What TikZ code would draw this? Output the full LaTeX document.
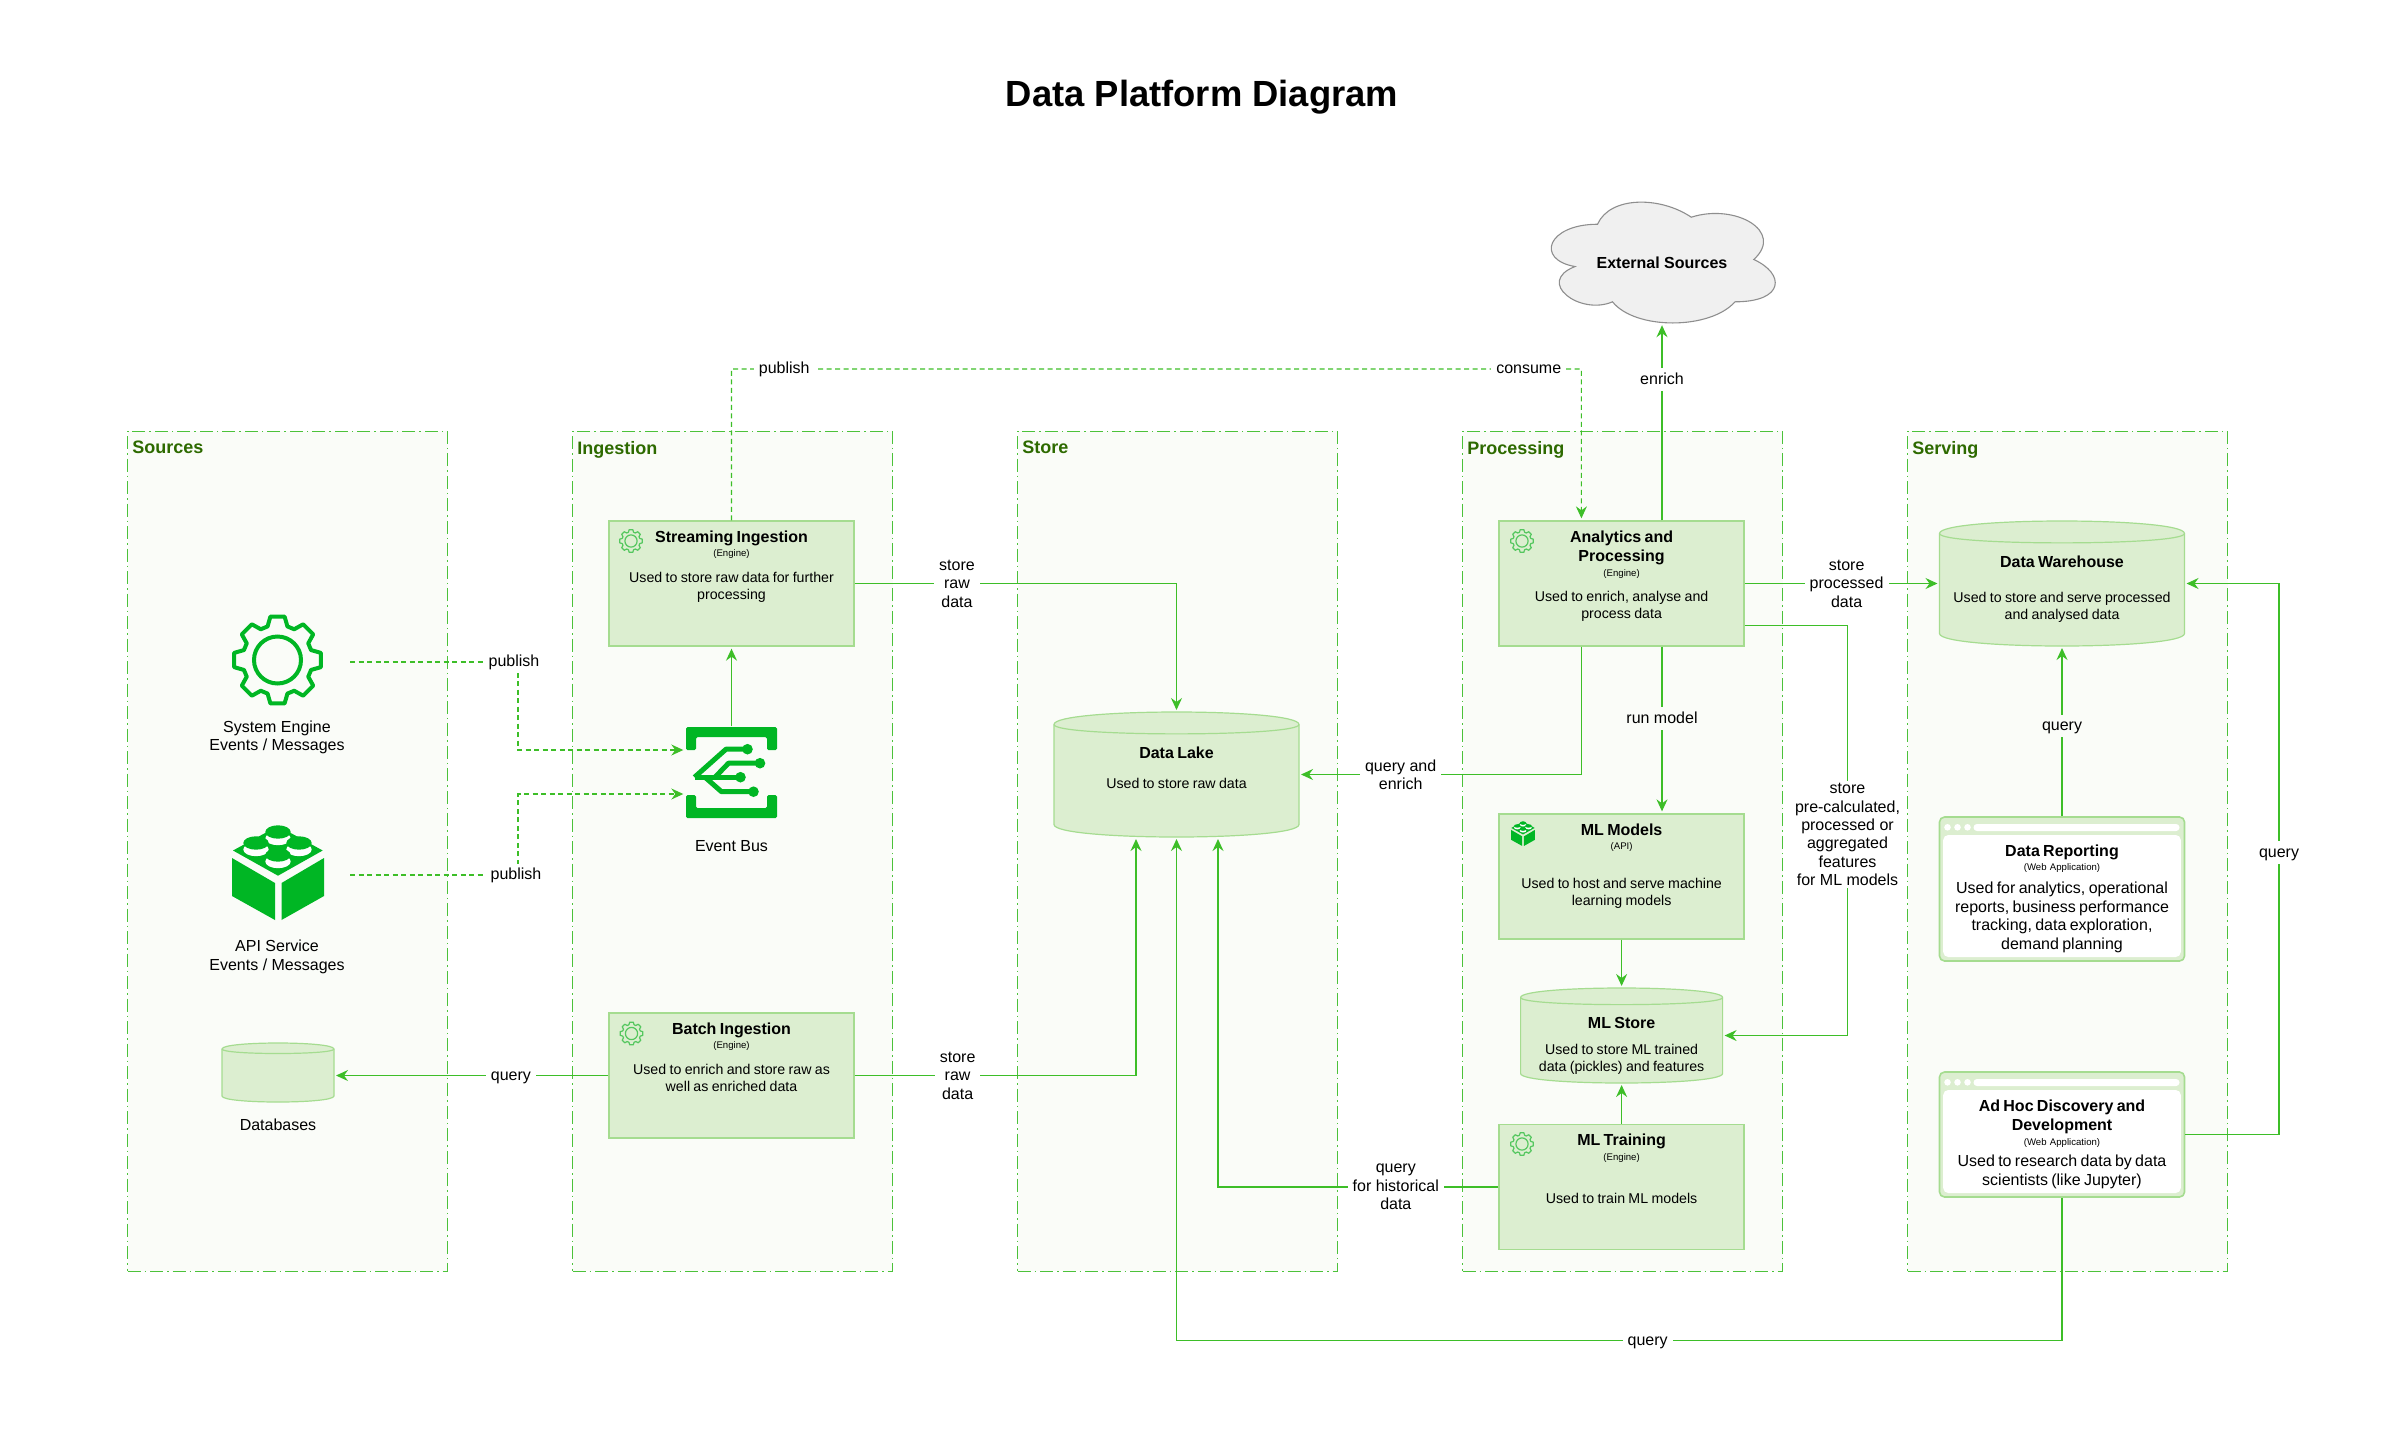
\documentclass[tikz,border=0pt]{standalone}
\usepackage{fontspec}
\setmainfont{Liberation Sans}
\usetikzlibrary{positioning, calc, arrows.meta}

\definecolor{panelfill}{HTML}{FAFCF8}
\definecolor{panelline}{HTML}{4CC23A}
\definecolor{paneltext}{HTML}{2D6A00}
\definecolor{boxfill}{HTML}{DCEED0}
\definecolor{boxline}{HTML}{A5DC90}
\definecolor{flowline}{HTML}{3DBE28}
\definecolor{iconfill}{HTML}{00B624}
\definecolor{smallicon}{HTML}{55C75F}
\definecolor{cloudfill}{HTML}{F0F0F0}
\definecolor{cloudline}{HTML}{8E8E8E}

\newcommand{\labelfont}{\fontsize{16}{18.4}\selectfont}
\newcommand{\titlefont}{\fontsize{16}{19.5}\selectfont\bfseries}
\newcommand{\subfont}{\fontsize{9.6}{14.5}\selectfont}
\newcommand{\descfont}{\fontsize{14.2}{17}\selectfont}
\newcommand{\webfont}{\fontsize{16}{18.7}\selectfont}

% title, small line, gap, text
\newcommand{\boxlabel}[4][8.5pt]{{\titlefont #2\par}{\subfont #3\par}\vspace{#1}{\descfont #4\par}}
\newcommand{\weblabel}[4][4.3pt]{{\titlefont #2\par}{\subfont #3\par}\vspace{#1}{\webfont #4\par}}
\newcommand{\dblabel}[3][13pt]{{\titlefont #2\par}\vspace{#1}{\descfont #3\par}}

% left, top, width, height, cap
\newcommand{\drumshape}[5]{
	\begin{scope}[shift={(#1,#2)}]
		\draw[draw=boxline, fill=boxfill, line width=1.2pt] (0,#5) .. controls (0,-#5/3) and (#3,-#5/3) .. (#3,#5)
			-- (#3,#4-#5) .. controls (#3,#4+#5/3) and (0,#4+#5/3) .. (0,#4-#5) -- cycle;
		\draw[draw=boxline, line width=1.2pt] (0,#5) .. controls (0,2*#5) and (#3,2*#5) .. (#3,#5);
	\end{scope}
}

\tikzset{
	panelbox/.style={rectangle, draw=panelline, fill=panelfill, line width=0.9pt,
		dash pattern=on 13pt off 4pt on 1.5pt off 4pt, minimum width=320pt, minimum height=840pt},
	paneltitle/.style={anchor=north west, inner xsep=5pt, inner ysep=10.5pt, text=paneltext,
		font=\fontsize{18}{20}\selectfont\bfseries},
	enginebox/.style={rectangle, draw=boxline, fill=boxfill, line width=1.3pt, inner sep=0pt,
		text width=245pt, align=center, text height=21pt, text depth=104pt},
	webbox/.style={enginebox, rounded corners=5pt, line width=1.6pt,
		path picture={
			\fill[white] ([shift={(3.7,18)}]path picture bounding box.north west) rectangle
				([shift={(-3.7,-4)}]path picture bounding box.south east);
			\foreach \dotx in {8,18,28}
				\fill[white] ([shift={(\dotx,10.3)}]path picture bounding box.north west) circle (3.3);
			\fill[white, rounded corners=3.4pt] ([shift={(34,7)}]path picture bounding box.north west) rectangle
				([shift={(-5,14)}]path picture bounding box.north east);
		}},
	dbbox/.style={rectangle, inner sep=0pt, outer sep=0pt, align=center},
	iconspot/.style={inner sep=0pt, minimum width=92pt, minimum height=92pt},
	iconlabel/.style={align=center, font=\labelfont, inner sep=0pt},
	flow/.style={draw=flowline, line width=1.3pt, shorten >=2pt,
		-{Stealth[length=12pt,width=11pt,inset=4pt]}},
	flowdash/.style={flow, line width=1.1pt, dash pattern=on 5pt off 3.5pt},
	linelabel/.style={fill=white, inner xsep=5pt, inner ysep=2pt, align=center, font=\labelfont, text=black},
	onelabel/.style={linelabel, inner ysep=5pt, text height=11pt, text depth=1.5pt},
	pics/gearicon/.style={code={
		\draw[line join=round] (-16.5:35) \foreach \a in {0,45,...,315}{
			-- (\a-16.5:35) -- (\a-9.3:44) -- (\a+9.3:44) -- (\a+16.5:35)} -- cycle;
		\draw (0,0) circle (23.5);
	}},
	pics/legoicon/.style={code={
		\fill[iconfill] (-46,-14) -- (-3,11) -- (-3,48) -- (-46,24) -- cycle;
		\fill[iconfill] (3.5,11) -- (46,-14) -- (46,24) -- (3.5,48) -- cycle;
		\fill[iconfill] (-45,-21.5) -- (0,3.7) -- (44.7,-21.5) -- (0,-46) -- cycle;
		\foreach \sx/\sy in {0/-40,-22/-29,21/-29,0/-17}{
			\fill[white] (\sx,\sy+6.5) ellipse (12.7 and 6.7);
			\fill[iconfill] (\sx,\sy) ellipse (12.7 and 6.7);
		}
	}},
}

\begin{document}
\begin{tikzpicture}[x=1pt, y=-1pt]
	\useasboundingbox (0,0) rectangle (2404,1454);
	
	%Title
	\node (diagramtitle) at (1202,97) [font=\fontsize{36.4}{40}\selectfont\bfseries]{Data Platform Diagram};
	
	%Panels
	\node (sources) at (287.5,851) [panelbox]{};
	\node (ingestion) at (732.5,851) [panelbox]{};
	\node (store) at (1177.5,851) [panelbox]{};
	\node (processing) at (1622.5,851) [panelbox]{};
	\node (serving) at (2067.5,851) [panelbox]{};
	\node (sourcestitle) at (sources.north west) [paneltitle]{Sources};
	\node (ingestiontitle) at (ingestion.north west) [paneltitle]{Ingestion};
	\node (storetitle) at (store.north west) [paneltitle]{Store};
	\node (processingtitle) at (processing.north west) [paneltitle]{Processing};
	\node (servingtitle) at (serving.north west) [paneltitle]{Serving};
	
	%Sources
	\pic[draw=iconfill, line width=4pt] at (277.5,660) {gearicon};
	\node (systemlabel) at (277,737.5) [iconlabel]{System Engine \\ Events / Messages};
	\pic at (278,872) {legoicon};
	\node (apilabel) at (277,957) [iconlabel]{API Service \\ Events / Messages};
	\drumshape{222}{1043}{112}{59}{6}
	\node (databases) at (278,1072.5) [dbbox, minimum width=112pt, minimum height=59pt]{};
	\node (databaseslabel) at (278,1125) [iconlabel]{Databases};
	\coordinate (systemout) at (350,662);
	\coordinate (apiout) at (350,875);
	
	%Ingestion
	\node (streaming) at (731.5,583.5) [enginebox]{\boxlabel{Streaming Ingestion}{(Engine)}{Used to store raw data for further \\ processing}};
	\pic[draw=smallicon, line width=1.2pt, scale=0.26] at (631,541) {gearicon};
	\node (eventbus) at (731.5,772.5) [iconspot]{};
	\fill[iconfill, rounded corners=1.5pt] (686,750) -- (686,727) -- (777,727) -- (777,750) -- (767,750) -- (767,737) -- (696,737) -- (696,750) -- cycle;
	\fill[iconfill, rounded corners=1.5pt] (686,795) -- (686,818) -- (777,818) -- (777,795) -- (767,795) -- (767,808) -- (696,808) -- (696,795) -- cycle;
	\begin{scope}[shift={(731.5,772.2)}, draw=iconfill, line width=5pt, line join=round]
		\draw (-37,5) -- (-5.5,-23) -- (16,-23);
		\draw (-16.5,5) -- (-3,-9) -- (28.5,-9);
		\draw (-37,5) -- (9,5);
		\draw (-26.5,5) -- (-10,19.5) -- (22,19.5);
		\foreach \nx/\ny in {16/-23,28.5/-9,9/5,22/19.5}
			\fill[iconfill] (\nx,\ny) circle (5.3);
	\end{scope}
	\node (eventbuslabel) at (731.5,846) [iconlabel]{Event Bus};
	\node (batch) at (731.5,1075.5) [enginebox]{\boxlabel{Batch Ingestion}{(Engine)}{Used to enrich and store raw as \\ well as enriched data}};
	\pic[draw=smallicon, line width=1.2pt, scale=0.26] at (631.5,1033.5) {gearicon};
	
	%Store
	\drumshape{1054}{712}{245}{125}{12.5}
	\node (lake) at (1176.5,774.5) [dbbox, text width=245pt, text height=46pt, text depth=79pt]{\dblabel{Data Lake}{Used to store raw data}};
	
	%Processing
	\node (analytics) at (1621.6,583.5) [enginebox]{\boxlabel{Analytics and \\ Processing}{(Engine)}{Used to enrich, analyse and \\ process data}};
	\pic[draw=smallicon, line width=1.2pt, scale=0.26] at (1522,541) {gearicon};
	\node (mlmodels) at (1621.6,876.5) [enginebox]{\boxlabel[21.5pt]{ML Models}{(API)}{Used to host and serve machine \\ learning models}};
	\pic[scale=0.26] at (1523,833.5) {legoicon};
	\drumshape{1520.6}{988}{202}{95}{9.5}
	\node (mlstore) at (1621.6,1035.5) [dbbox, text width=202pt, text height=40pt, text depth=55pt]{\dblabel[9pt]{ML Store}{Used to store ML trained \\ data (pickles) and features}};
	\node (mltraining) at (1621.6,1187) [enginebox]{\boxlabel[26.5pt]{ML Training}{(Engine)}{Used to train ML models}};
	\pic[draw=smallicon, line width=1.2pt, scale=0.26] at (1522,1144) {gearicon};
	
	%Serving
	\drumshape{1939.5}{521}{245}{125}{12.5}
	\node (warehouse) at (2062,583.5) [dbbox, text width=245pt, text height=46pt, text depth=79pt]{\dblabel[18pt]{Data Warehouse}{Used to store and serve processed \\ and analysed data}};
	\node (report) at (2062,889) [webbox, text height=39pt, text depth=105pt]{\weblabel{Data Reporting}{(Web Application)}{Used for analytics, operational \\ reports, business performance \\ tracking, data exploration, \\ demand planning}};
	\node (adhoc) at (2062,1134.5) [webbox, text height=39.4pt, text depth=85.6pt]{\weblabel[2.4pt]{Ad Hoc Discovery and \\ Development}{(Web Application)}{Used to research data by data \\ scientists (like Jupyter)}};
	
	%Cloud
	\begin{scope}[shift={(1535,189)}, x=250pt, y=-141pt]
		\draw[draw=cloudline, fill=cloudfill, line width=1.1pt] (0.25,0.25) .. controls (0.05,0.25) and (0,0.5) .. (0.16,0.55)
			.. controls (0,0.66) and (0.18,0.9) .. (0.31,0.8)
			.. controls (0.4,1) and (0.7,1) .. (0.8,0.8)
			.. controls (1,0.8) and (1,0.6) .. (0.875,0.5)
			.. controls (1,0.3) and (0.8,0.1) .. (0.625,0.2)
			.. controls (0.5,0.05) and (0.3,0.05) .. (0.25,0.25) -- cycle;
	\end{scope}
	\node (cloud) at (1662,262.5) [minimum width=225pt, minimum height=121pt, inner sep=0pt, font=\titlefont]{External Sources};
	
	%Bends
	\coordinate (consumeturn) at (1581.4,369);
	\coordinate (systemturn) at (518,750);
	\coordinate (apiturn) at (518,794);
	\coordinate (featureturn) at (1847.5,1035.5);
	\coordinate (queryturn) at (1176.5,1340.5);
	\coordinate (queryback) at (2279,583.5);
	
	%Links
	\draw[flowdash] (streaming.north) |- node (publishlabel) [onelabel, pos=0.531]{publish} node (consumelabel) [onelabel, pos=0.969]{consume} (consumeturn) -- ([xshift=-40.2pt]analytics.north);
	\draw[flowdash] (systemout) -| node (publishsystem) [onelabel, pos=0.5, xshift=-4pt]{publish} (systemturn) -- (systemturn -| eventbus.west);
	\draw[flowdash] (apiout) -| node (publishapi) [onelabel, pos=0.5, xshift=-2pt]{publish} (apiturn) -- (apiturn -| eventbus.west);
	\draw[flow] (eventbus.north) -- (streaming.south);
	\draw[flow] (streaming.east) -| node (storeraw) [linelabel, pos=0.159]{store \\ raw \\ data} (lake.north);
	\draw[flow] (batch.east) -| node (storebatch) [linelabel, pos=0.183]{store \\ raw \\ data} ([xshift=-40.5pt]lake.south);
	\draw[flow] (batch.west) -- node (querydb) [onelabel, pos=0.355]{query} (batch.west -| databases.east);
	\draw[flow] ([xshift=40.4pt]analytics.north) -- node (enrichlabel) [onelabel, pos=0.715]{enrich} ([xshift=40.4pt]analytics.north |- cloud.south);
	\draw[flow] (analytics.east) -- node (storeprocessed) [linelabel, pos=0.523]{store \\ processed \\ data} (warehouse.west |- analytics.east);
	\draw[flow] ([yshift=-42pt]analytics.east) -| node (storefeatures) [linelabel, pos=0.755]{store \\ pre-calculated, \\ processed or \\ aggregated \\ features \\ for ML models} (featureturn) -- (mlstore.east);
	\draw[flow] ([xshift=-40.2pt]analytics.south) |- node (queryenrich) [linelabel, pos=0.82]{query and \\ enrich} (lake.east);
	\draw[flow] ([xshift=40.4pt]analytics.south) -- node (runmodel) [onelabel, pos=0.43, fill=panelfill]{run model} ([xshift=40.4pt]mlmodels.north);
	\draw[flow] (mlmodels.south) -- (mlstore.north);
	\draw[flow] (mltraining.north) -- (mlstore.south);
	\draw[flow] (mltraining.west) -| node (queryhistory) [linelabel, pos=0.183]{query \\ for historical \\ data} ([xshift=41.5pt]lake.south);
	\draw[flow] (adhoc.south) |- node (querylake) [onelabel, pos=0.734]{query} (queryturn) -- (lake.south);
	\draw[flow] (adhoc.east) -| node (queryserve) [onelabel, pos=0.756]{query} (queryback) -- (warehouse.east);
	\draw[flow] (report.north) -- node (queryreport) [onelabel, pos=0.53, fill=panelfill]{query} (warehouse.south);
	
\end{tikzpicture}
\end{document}
